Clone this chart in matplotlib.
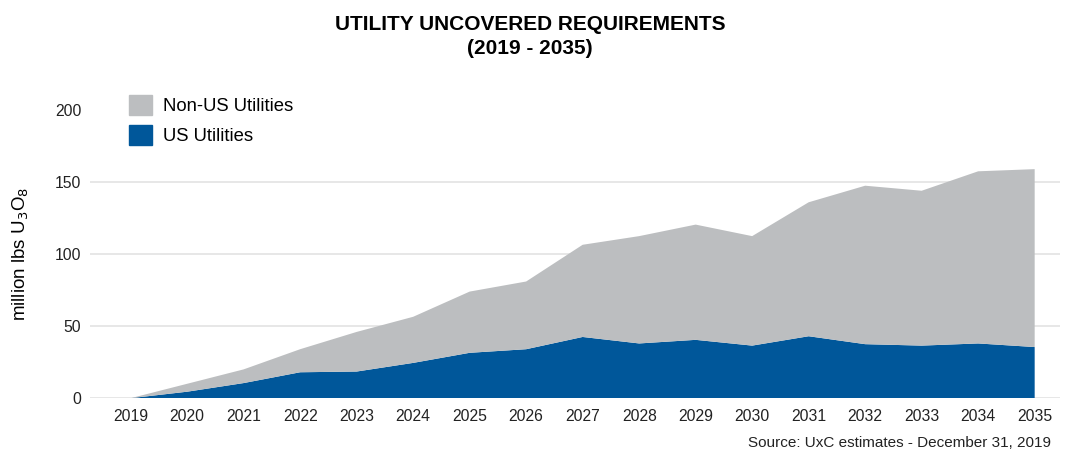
import matplotlib
matplotlib.use("Agg")
import matplotlib.pyplot as plt
from matplotlib.patches import Patch

years = list(range(2019, 2036))
us_utilities = [0, 4.5, 10.5, 18, 18.5, 24.5, 31.5, 34, 42.5, 38, 40.5, 36.5, 43, 37.5, 36.5, 38, 35.5]
total_uncovered = [0, 10, 20, 34, 46, 56.5, 74, 81, 106.5, 112.5, 120.5, 112.5, 136, 147.5, 144, 157.5, 159]
non_us_utilities = [t - u for t, u in zip(total_uncovered, us_utilities)]
y_ticks = [0, 50, 100, 150, 200]

GRAY = "#bcbec0"
BLUE = "#00579a"

plt.rcParams["font.family"] = ["Liberation Sans", "DejaVu Sans"]

fig = plt.figure(figsize=(10.67, 4.53), dpi=100)
ax = fig.add_axes([0.084, 0.121, 0.909, 0.636])

ax.stackplot(years, us_utilities, non_us_utilities, colors=[BLUE, GRAY], linewidth=0)

ax.set_xlim(2018.274, 2035.44)
ax.set_ylim(0, 200)
ax.set_xticks(years)
ax.set_yticks(y_ticks)
ax.tick_params(axis="both", length=0, labelsize=11.3, colors="#222222")
ax.tick_params(axis="x", pad=8)
ax.tick_params(axis="y", pad=6)
for s in ax.spines.values():
    s.set_visible(False)
for v in y_ticks[:-1]:
    ax.axhline(v, color="#e3e3e3", linewidth=1.2, zorder=0)
ax.set_axisbelow(True)

ax.set_ylabel("million lbs U$_3$O$_8$", fontsize=13.5, labelpad=17)

handles = [Patch(color=GRAY, label="Non-US Utilities"), Patch(color=BLUE, label="US Utilities")]
ax.legend(handles=handles, loc="upper left", bbox_to_anchor=(0.041, 1.052), frameon=False,
          borderpad=0, borderaxespad=0, fontsize=13.3, handlelength=1.25, handleheight=1.25,
          handletextpad=0.55, labelspacing=0.54)

fig.text(0.497, 0.919, "UTILITY UNCOVERED REQUIREMENTS\n(2019 - 2035)", ha="center", va="center",
         fontsize=15, fontweight="bold", linespacing=1.3)
fig.text(0.985, 0.022, "Source: UxC estimates - December 31, 2019", ha="right", va="center",
         fontsize=11, color="#222222")

fig.savefig("out.png", dpi=100)
